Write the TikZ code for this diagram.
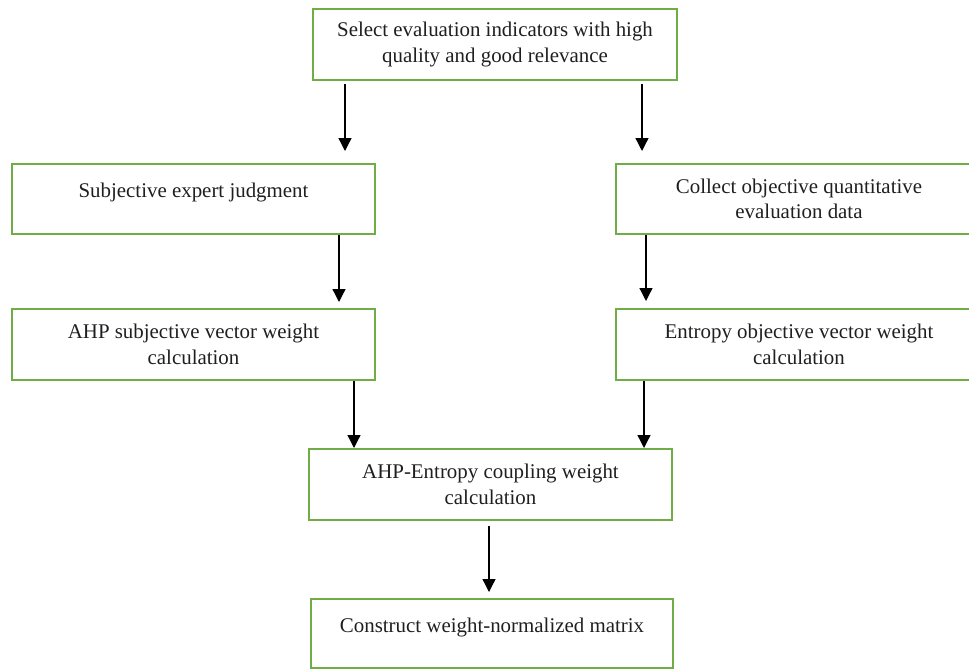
\documentclass[tikz,border=0pt]{standalone}
\usepackage{fontspec}
\setmainfont{Liberation Serif}
\usetikzlibrary{arrows.meta}
\definecolor{boxgreen}{RGB}{112,173,71}
\begin{document}
\begin{tikzpicture}[x=1pt,y=-1pt,
  stepbox/.style={draw=boxgreen, line width=2pt, rectangle, inner sep=0pt,
    align=center, font=\fontsize{20.9}{25.5}\selectfont, text=black!88},
  flow/.style={line width=1.3pt, -{Triangle[width=13pt,length=13pt]}}]
  \useasboundingbox (0,0) rectangle (969,669);
  \clip (0,0) rectangle (969,669);
  % process boxes
  \node[stepbox, minimum width=364pt, minimum height=71pt] (b1) at (495,44.5)
    {Select evaluation indicators with high\\quality and good relevance};
  \node[stepbox, minimum width=363pt, minimum height=70pt] (b2) at (193.5,199)
    {Subjective expert judgment\\[-8pt]\mbox{}};
  \node[stepbox, minimum width=366pt, minimum height=70pt] (b3) at (799,199)
    {Collect objective quantitative\\evaluation data};
  \node[stepbox, minimum width=363pt, minimum height=71pt] (b4) at (193.5,344.5)
    {AHP subjective vector weight\\calculation};
  \node[stepbox, minimum width=366pt, minimum height=71pt] (b5) at (799,344.5)
    {Entropy objective vector weight\\calculation};
  \node[stepbox, minimum width=363pt, minimum height=71pt] (b6) at (490.5,484.5)
    {AHP-Entropy coupling weight\\calculation};
  \node[stepbox, minimum width=362pt, minimum height=69pt] (b7) at (492,633.5)
    {Construct weight-normalized matrix\\[-8pt]\mbox{}};
  % columns of the connectors
  \coordinate (xa) at (345,0);
  \coordinate (xb) at (642,0);
  \coordinate (xc) at (339,0);
  \coordinate (xd) at (646,0);
  \coordinate (xe) at (354,0);
  \coordinate (xf) at (644,0);
  \coordinate (xg) at (489,0);
  % connectors
  \draw[flow, shorten <=3pt, shorten >=12pt] (b1.south -| xa) -- (b2.north -| xa);
  \draw[flow, shorten <=3pt, shorten >=12pt] (b1.south -| xb) -- (b3.north -| xb);
  \draw[flow, shorten >=6pt] (b2.south -| xc) -- (b4.north -| xc);
  \draw[flow, shorten >=7pt] (b3.south -| xd) -- (b5.north -| xd);
  \draw[flow] (b4.south -| xe) -- (b6.north -| xe);
  \draw[flow] (b5.south -| xf) -- (b6.north -| xf);
  \draw[flow, shorten <=5pt, shorten >=6pt] (b6.south -| xg) -- (b7.north -| xg);
\end{tikzpicture}
\end{document}
